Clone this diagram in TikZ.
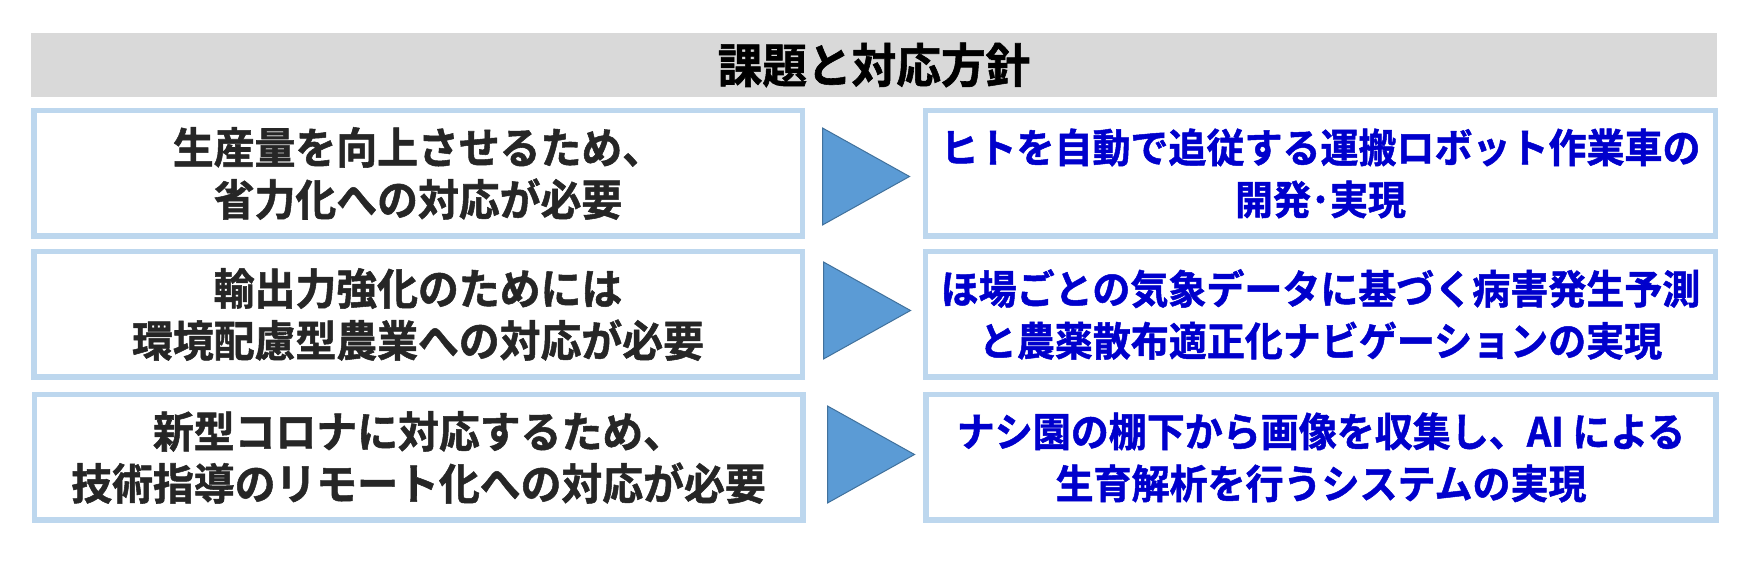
\documentclass[tikz,border=0pt]{standalone}
\usepackage{fontspec}
\usetikzlibrary{shapes.geometric}
\newfontfamily\jp{Noto Sans CJK JP}[BoldFont={Noto Sans CJK JP Bold}, FakeStretch=0.95, BoldFeatures={FakeBold=1.2}]
\definecolor{bargray}{RGB}{217,217,217}
\definecolor{boxblue}{RGB}{189,215,238}
\definecolor{arrowfill}{RGB}{91,155,213}
\definecolor{arrowline}{RGB}{65,113,156}
\definecolor{bluetext}{RGB}{0,0,204}
\definecolor{darktext}{RGB}{38,38,38}
\begin{document}
\begin{tikzpicture}[x=0.5pt,y=-0.5pt,
  titlebar/.style={fill=bargray, draw=none, minimum width=843pt, minimum height=32pt, inner sep=0pt,
    font=\jp\bfseries\fontsize{23.5pt}{26pt}\selectfont, text=black},
  leftbox/.style={draw=boxblue, fill=white, line width=2.75pt, minimum width=384.25pt, minimum height=62.75pt, inner sep=0pt,
    align=center, text=darktext, font=\jp\bfseries\fontsize{21.5pt}{26pt}\selectfont},
  rightbox/.style={draw=boxblue, fill=white, line width=2.75pt, minimum width=395pt, minimum height=62.75pt, inner sep=0pt,
    align=center, text=bluetext, font=\jp\bfseries\fontsize{20pt}{26pt}\selectfont},
  arrowtri/.style={shape=isosceles triangle, isosceles triangle stretches, fill=arrowfill, draw=arrowline, line width=0.5pt,
    minimum width=48.5pt, minimum height=43.5pt, inner sep=0pt, anchor=west}
]
\useasboundingbox (0,0) rectangle (1749,565);
\node[titlebar] (title) at (874,65) {課題と対応方針};

\node[leftbox] (l1) at (418,173.5) {生産量を向上させるため、\\省力化への対応が必要};
\node[rightbox] (r1) at (1320.5,173.5) {ヒトを自動で追従する運搬ロボット作業車の\\開発･実現};
\node[arrowtri] (a1) at (822,176.5) {};

\node[leftbox] (l2) at (418,314.5) {輸出力強化のためには\\環境配慮型農業への対応が必要};
\node[rightbox] (r2) at (1320.5,314.5) {ほ場ごとの気象データに基づく病害発生予測\\と農薬散布適正化ナビゲーションの実現};
\node[arrowtri] (a2) at (823,310.5) {};

\node[leftbox] (l3) at (418.5,457.5) {新型コロナに対応するため、\\技術指導のリモート化への対応が必要};
\node[rightbox] (r3) at (1321,457.5) {ナシ園の棚下から画像を収集し、AI による\\生育解析を行うシステムの実現};
\node[arrowtri] (a3) at (827,454.5) {};
\end{tikzpicture}
\end{document}
